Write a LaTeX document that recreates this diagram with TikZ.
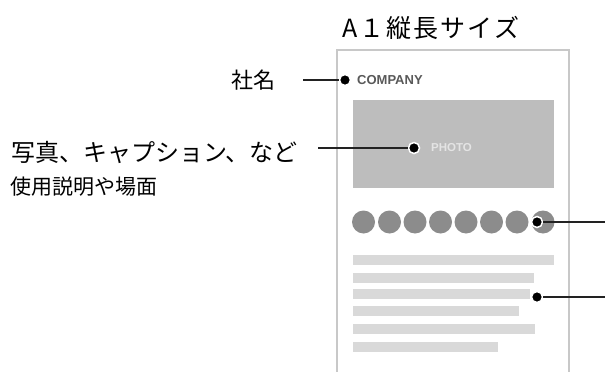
\documentclass[tikz,border=0pt]{standalone}
\usepackage{fontspec}
\newfontfamily\jp{Noto Sans CJK JP}
\newfontfamily\jpsp[LetterSpace=8]{Noto Sans CJK JP}
\setsansfont{Liberation Sans}
\definecolor{cardline}{HTML}{C8C8C8}
\definecolor{photo}{HTML}{BDBDBD}
\definecolor{phototxt}{HTML}{E4E4E4}
\definecolor{circ}{HTML}{8C8C8C}
\definecolor{bar}{HTML}{D9D9D9}
\definecolor{conn}{HTML}{222222}
\begin{document}
\begin{tikzpicture}[x=1pt,y=-1pt,
  lbl/.style={inner sep=0pt,anchor=east,text=black},
  dotmark/.style={circle,fill=black,draw=white,line width=1.5pt,minimum size=11pt,inner sep=0pt},
  connline/.style={draw=conn,line width=1.3pt},
  txtbar/.style={fill=bar,draw=none},
  chip/.style={circle,fill=circ,minimum size=23pt,inner sep=0pt}]
\useasboundingbox (0,0) rectangle (605,372);
% card
\draw[cardline,line width=1.5pt,fill=white] (337,380) -- (337,50) -- (569,50) -- (569,380);
% title
\node[inner sep=0pt] (title) at (431,28) {\jpsp\fontsize{25}{27}\selectfont A１縦長サイズ};
% company
\node[inner sep=0pt,anchor=west,text=black!65] (company) at (357,80) {\sffamily\bfseries\fontsize{13}{14}\selectfont COMPANY};
% photo
\fill[photo] (353,100) rectangle (554,188);
\node[inner sep=0pt,anchor=west,text=phototxt] (phototext) at (431,148) {\sffamily\bfseries\fontsize{11.5}{12}\selectfont PHOTO};
% chips
\foreach \i/\x in {1/363.5,2/389.5,3/415,4/440.5,5/466,6/491.5,7/517,8/543}
  \node[chip] (chip\i) at (\x,222) {};
% text bars
\foreach \y/\r in {260/554,278/534,294/530,311/519,329/535,347/498}
  \fill[txtbar] (353,\y-5) rectangle (\r,\y+5);
% dots
\node[dotmark] (d1) at (345,80) {};
\node[dotmark] (d2) at (414,148) {};
\node[dotmark] (d3) at (537,222) {};
\node[dotmark] (d4) at (537,297) {};
% labels
\node[lbl] (l1) at (276,80) {\jp\fontsize{22}{24}\selectfont 社名};
\node[lbl] (l2) at (298,152) {\jp\fontsize{24}{26}\selectfont 写真、キャプション、など};
\node[inner sep=0pt,anchor=west] (l3) at (10,187) {\jp\fontsize{21}{23}\selectfont 使用説明や場面};
% connector ends
\coordinate (e1) at (303,80);
\coordinate (e2) at (318,148);
\coordinate (e3) at (605,222);
\coordinate (e4) at (605,297);
\draw[connline] (e1) -- (d1.west);
\draw[connline] (e2) -- (d2.west);
\draw[connline] (d3.east) -- (e3);
\draw[connline] (d4.east) -- (e4);
\end{tikzpicture}
\end{document}
